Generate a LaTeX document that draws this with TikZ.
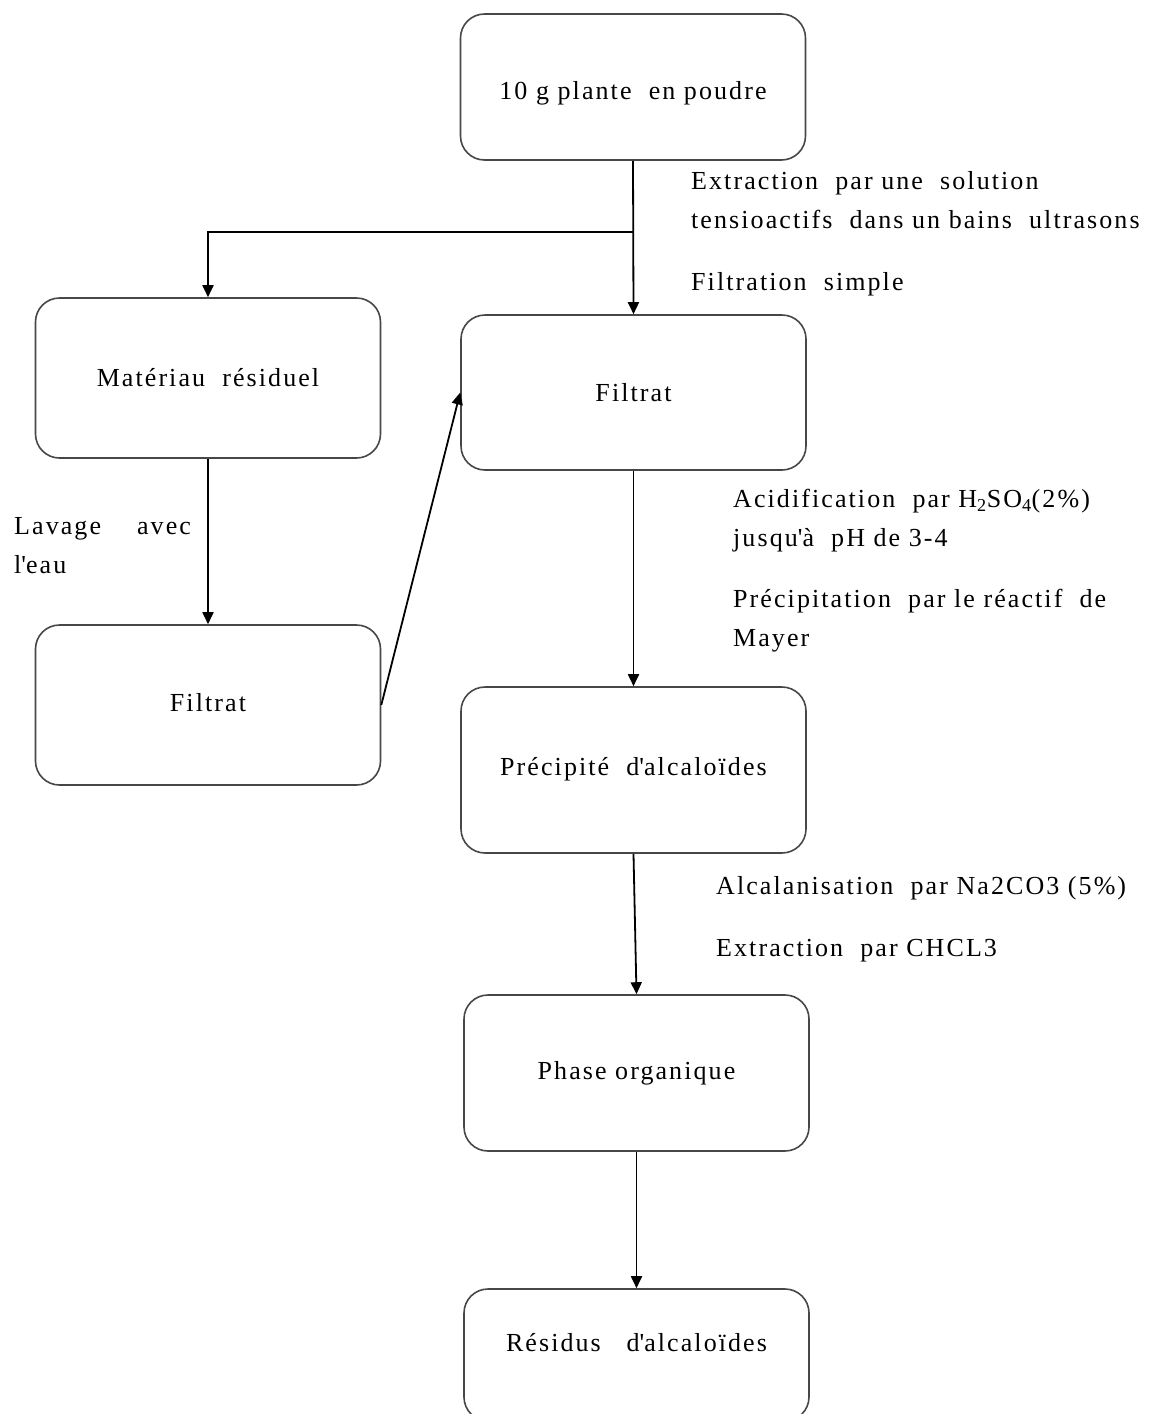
\documentclass[tikz,border=0pt]{standalone}
\usepackage{fontspec}
\setmainfont{Liberation Serif}[LetterSpace=8]
\usetikzlibrary{arrows.meta}
\newcommand\dfs{\fontsize{26}{38.5}\selectfont}
\newcommand\ap{\textquotesingle}
\begin{document}
\begin{tikzpicture}[x=1pt,y=-1pt,
 box/.style={draw=black!72,line width=1.6pt,rounded corners=24pt,minimum width=345pt,inner sep=0pt,font=\dfs},
 arr/.style={draw=black,line width=1.8pt,-{Triangle[length=12pt,width=11pt]}},
 lbl/.style={anchor=base west,inner sep=0pt,font=\dfs,align=left}]
\useasboundingbox[fill=white] (0,0) rectangle (1159,1414);
\clip (0,0) rectangle (1159,1414);
% boxes
\node[box,minimum height=146pt] (top) at (633,87) {\raisebox{-6pt}[\height][\depth]{10 g plante\ \ en poudre}};
\node[box,minimum height=155pt] (filtR) at (633.5,392.5) {Filtrat};
\node[box,minimum height=160pt] (mat) at (208,378) {Matériau\ \ résiduel};
\node[box,minimum height=160pt] (filtL) at (208,705) {\raisebox{6pt}{Filtrat}};
\node[box,minimum height=166pt] (prec) at (633.5,770) {\raisebox{8pt}{Précipité\ \ d\ap alcaloïdes}};
\node[box,minimum height=156pt] (phase) at (636.5,1073) {Phase organique};
\node[box,minimum height=132pt] (resid) at (636.5,1355) {\raisebox{26pt}{Résidus\ \ \ d\ap alcaloïdes}};
% connectors
\coordinate (j) at (633,232);
\coordinate (jl) at (208,232);
\draw[arr] (top.south) -- (filtR.north);
\draw[arr] (j) -- (jl) -- (mat.north);
\draw[arr] (mat.south) -- (filtL.north);
\draw[arr] (filtL.east) -- (filtR.west);
\draw[arr] (filtR.south) -- (prec.north);
\draw[arr] (prec.south) -- (phase.north);
\draw[arr] (phase.south) -- (resid.north);
% labels
\node[lbl] (l1) at (691,228) {Extraction\ \ par une\ \ solution\\tensioactifs\ \ dans un bains\ \ ultrasons};
\node[lbl] (l2) at (691,290) {Filtration\ \ simple};
\node[lbl] (l3) at (733,546) {Acidification\ \ par H\textsubscript{2}SO\textsubscript{4}(2\%)\\jusqu\ap à\ \ pH de 3-4};
\node[lbl] (l4) at (733,646) {Précipitation\ \ par le réactif\ \ de\\Mayer};
\node[lbl] (l5) at (14,573) {Lavage\hspace{36pt}avec\\l\ap eau};
\node[lbl] (l6) at (716,894) {Alcalanisation\ \ par Na2CO3 (5\%)};
\node[lbl] (l7) at (716,956) {Extraction\ \ par CHCL3};
\end{tikzpicture}
\end{document}
